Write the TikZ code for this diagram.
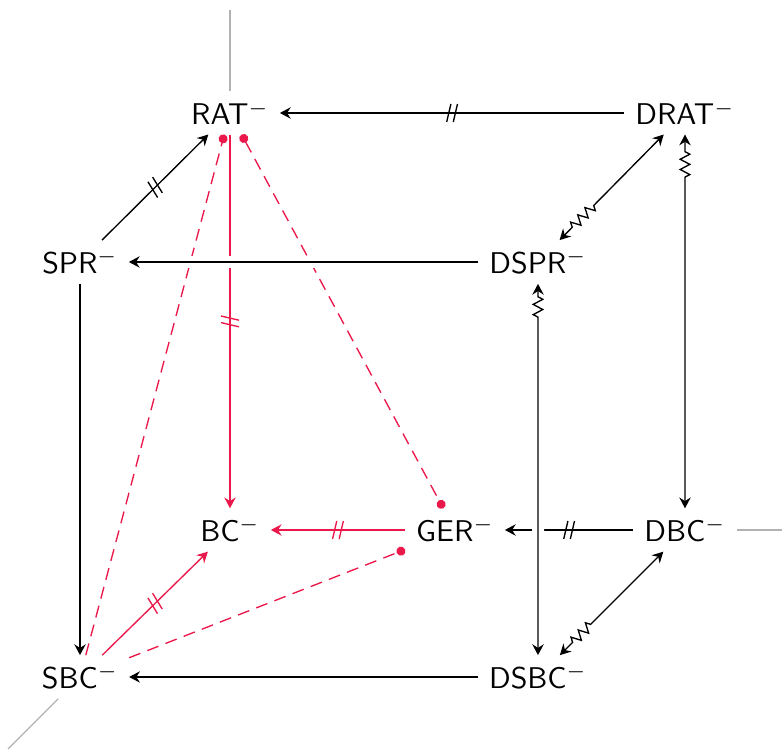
\documentclass[tikz,border=0pt]{standalone}
\usetikzlibrary{arrows.meta,decorations.pathmorphing,decorations.markings}
\definecolor{cred}{RGB}{235,25,75}
\begin{document}
\begin{tikzpicture}[x=0.33333pt,y=-0.33333pt,
  cell/.style={font=\sffamily, inner xsep=3.5pt, inner ysep=3pt},
  tip/.style={-{Stealth[length=3.6pt,width=3.8pt,inset=1.2pt]}},
  bitip/.style={{Stealth[length=3.6pt,width=3.8pt,inset=1.2pt]}-{Stealth[length=3.6pt,width=3.8pt,inset=1.2pt]}},
  edge/.style={line width=0.45pt, black},
  redge/.style={line width=0.45pt, cred},
  reddash/.style={line width=0.45pt, cred, dash pattern=on 4pt off 2.5pt},
  axisline/.style={line width=0.4pt, gray!60},
  dbar/.style={postaction={decorate}, decoration={markings, mark=at position 0.5 with {\draw[solid,-] (-1.8pt,-3pt)--(-0.4pt,3pt) (0.4pt,-3pt)--(1.8pt,3pt);}}},
  crossover/.style={preaction={draw=white, line width=4pt, -}},
  zig/.style={decorate, decoration={zigzag, amplitude=1.6pt, segment length=3.4pt, pre length=#1}}
]
\useasboundingbox (0,0) rectangle (782,751);
% nodes
\node[cell] (RAT)  at (230,113) {RAT$^-$};
\node[cell] (DRAT) at (685,113) {DRAT$^-$};
\node[cell] (SPR)  at (80,262)  {SPR$^-$};
\node[cell] (DSPR) at (538,262) {DSPR$^-$};
\node[cell] (BC)   at (230,530) {BC$^-$};
\node[cell] (GER)  at (455,530) {GER$^-$};
\node[cell] (DBC)  at (685,530) {DBC$^-$};
\node[cell] (SBC)  at (80,677)  {SBC$^-$};
\node[cell] (DSBC) at (538,677) {DSBC$^-$};
\coordinate (axT) at (230,10);
\coordinate (axR) at (782,530);
\coordinate (axD) at (8,749);
% axes
\draw[axisline] (RAT) -- (axT);
\draw[axisline] (DBC) -- (axR);
\draw[axisline] (SBC) -- (axD);
% red
\draw[reddash, -{Circle[length=3pt]}] (SBC) -- (RAT);
\draw[reddash, {Circle[length=3pt]}-{Circle[length=3pt]}] (RAT) -- (GER);
\draw[reddash, -{Circle[length=3pt]}] (SBC) -- (GER);
\draw[redge, tip, dbar] (RAT) -- (BC);
\draw[redge, tip, dbar] (GER) -- (BC);
\draw[redge, tip, dbar] (SBC) -- (BC);
% black
\draw[edge, tip, dbar] (DRAT) -- (RAT);
\draw[edge, tip, dbar] (SPR) -- (RAT);
\draw[edge, tip, crossover] (DSPR) -- (SPR);
\draw[edge, tip] (SPR) -- (SBC);
\draw[edge, tip] (DSBC) -- (SBC);
\draw[edge, tip, dbar] (DBC) -- (GER);
\draw[edge, bitip, zig=6pt, decoration={post length=33pt}] (DSPR) -- (DRAT);
\draw[edge, bitip, zig=5.7pt, decoration={post length=110pt}] (DRAT) -- (DBC);
\draw[edge, bitip, crossover, zig=4.3pt, decoration={post length=112pt}] (DSPR) -- (DSBC);
\draw[edge, bitip, zig=6pt, decoration={post length=33pt}] (DSBC) -- (DBC);
\end{tikzpicture}
\end{document}
